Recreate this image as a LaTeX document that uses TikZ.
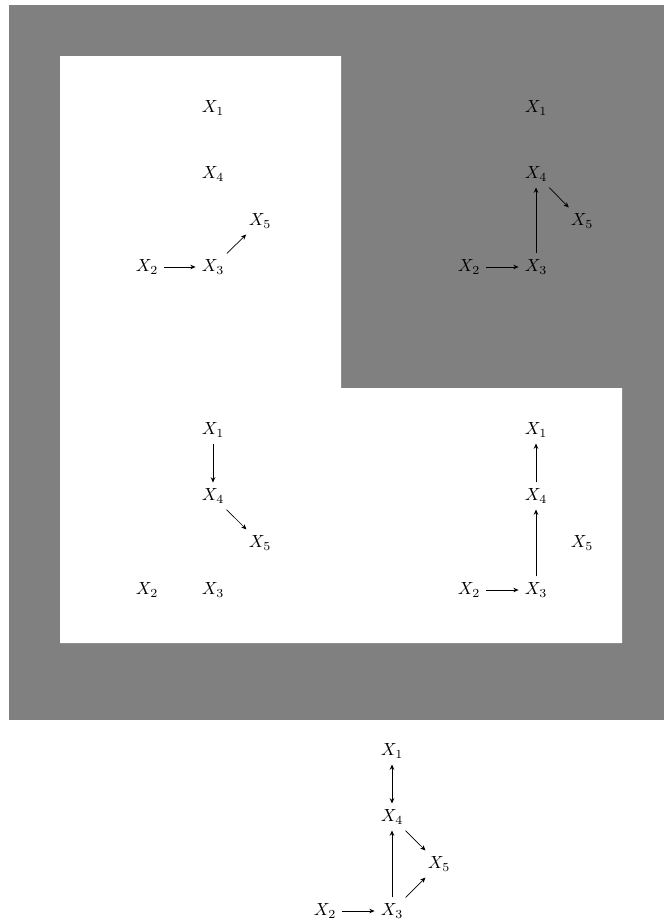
\documentclass[tikz,border=0pt]{standalone}
\usetikzlibrary{arrows.meta}
\begin{document}
\begin{tikzpicture}[x=0.02cm,y=-0.02cm,
  v/.style={inner sep=3.33pt},
  e/.style={-{Stealth[length=3pt,width=2.6pt]},line width=0.4pt},
  be/.style={{Stealth[length=3pt,width=2.6pt]}-{Stealth[length=3pt,width=2.6pt]},line width=0.4pt}]
\useasboundingbox (0,0) rectangle (664,923);
\fill[gray] (9,5) rectangle (664,720);
\fill[white] (60,56) -- (341,56) -- (341,388) -- (622,388) -- (622,643) -- (60,643) -- cycle;
% panel TL
\node[v] (a1) at (213,108) {$X_1$};
\node[v] (a4) at (213,174) {$X_4$};
\node[v] (a5) at (260,221) {$X_5$};
\node[v] (a2) at (147,267) {$X_2$};
\node[v] (a3) at (213,267) {$X_3$};
\draw[e] (a2) -- (a3);
\draw[e] (a3) -- (a5);
% panel TR
\node[v] (b1) at (536,108) {$X_1$};
\node[v] (b4) at (536,174) {$X_4$};
\node[v] (b5) at (582,221) {$X_5$};
\node[v] (b2) at (469,267) {$X_2$};
\node[v] (b3) at (536,267) {$X_3$};
\draw[e] (b2) -- (b3);
\draw[e] (b3) -- (b4);
\draw[e] (b4) -- (b5);
% panel BL
\node[v] (c1) at (213,430) {$X_1$};
\node[v] (c4) at (213,496) {$X_4$};
\node[v] (c5) at (260,543) {$X_5$};
\node[v] (c2) at (147,590) {$X_2$};
\node[v] (c3) at (213,590) {$X_3$};
\draw[e] (c1) -- (c4);
\draw[e] (c4) -- (c5);
% panel BR
\node[v] (d1) at (536,430) {$X_1$};
\node[v] (d4) at (536,496) {$X_4$};
\node[v] (d5) at (582,543) {$X_5$};
\node[v] (d2) at (469,590) {$X_2$};
\node[v] (d3) at (536,590) {$X_3$};
\draw[e] (d2) -- (d3);
\draw[e] (d3) -- (d4);
\draw[e] (d4) -- (d1);
% bottom
\node[v] (f1) at (392,751) {$X_1$};
\node[v] (f4) at (392,817) {$X_4$};
\node[v] (f5) at (439,864) {$X_5$};
\node[v] (f2) at (325,911) {$X_2$};
\node[v] (f3) at (392,911) {$X_3$};
\draw[be] (f1) -- (f4);
\draw[e] (f2) -- (f3);
\draw[e] (f3) -- (f4);
\draw[e] (f4) -- (f5);
\draw[e] (f3) -- (f5);
\end{tikzpicture}
\end{document}
